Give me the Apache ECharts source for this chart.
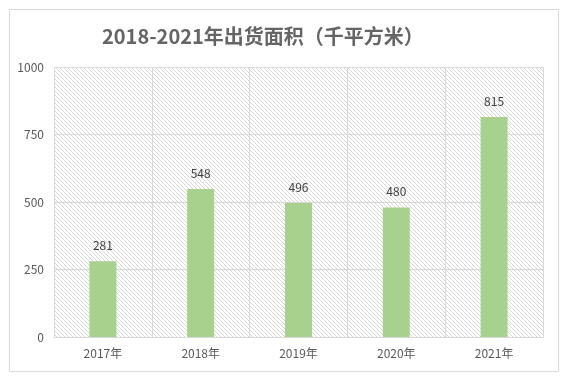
<!DOCTYPE html>
<html><head><meta charset="utf-8">
<script src="https://cdn.jsdelivr.net/npm/echarts@6/dist/echarts.min.js"></script>
<style>html,body{margin:0;padding:0;background:#fff}#c{width:570px;height:383px}</style>
</head><body><div id="c"></div>
<script>
const titleText = '2018-2021年出货面积（千平方米）';
const categories = ['2017年','2018年','2019年','2020年','2021年'];
const values = [281, 548, 496, 480, 815];
const yTicks = [0, 250, 500, 750, 1000];

// hatch pattern
const pc = document.createElement('canvas');
pc.width = 4; pc.height = 4;
const ctx = pc.getContext('2d');
ctx.fillStyle = '#ffffff'; ctx.fillRect(0,0,4,4);
ctx.fillStyle = '#d6d6d6';
for (let i=0;i<4;i++){ ctx.fillRect(i,i,1,1); }

const chart = echarts.init(document.getElementById('c'), null, {renderer:'canvas'});
const FF = '"Noto Sans CJK SC","Noto Sans",sans-serif';
chart.setOption({
  animation:false,
  textStyle:{fontFamily:FF},
  graphic:[{type:'rect',shape:{x:9.5,y:9.5,width:549,height:362},style:{fill:'none',stroke:'#d9d9d9',lineWidth:1},z:-10}],
  title:{text:titleText,left:97,top:21,textStyle:{fontSize:20,fontWeight:'bold',color:'#656565',fontFamily:FF}},
  grid:{left:54,right:27,top:67,bottom:46,show:true,backgroundColor:{image:pc,repeat:'repeat'},borderWidth:0},
  xAxis:{type:'category',data:categories,
    axisLine:{lineStyle:{color:'#d9d9d9'}},axisTick:{show:false},
    splitLine:{show:true,lineStyle:{color:'#d9d9d9'}},
    axisLabel:{color:'#595959',fontSize:12,margin:10,fontFamily:FF}},
  yAxis:{type:'value',min:yTicks[0],max:yTicks[yTicks.length-1],interval:250,
    axisLine:{show:false},axisTick:{show:false},
    splitLine:{lineStyle:{color:'#d9d9d9'}},
    axisLabel:{color:'#595959',fontSize:12,margin:10,fontFamily:FF,formatter:v=>String(v)}},
  series:[{type:'bar',data:values,barWidth:27,itemStyle:{color:'#a9d18e'},
    label:{show:true,position:'top',distance:10,color:'#404040',fontSize:12,fontFamily:FF}}]
});
</script></body></html>
